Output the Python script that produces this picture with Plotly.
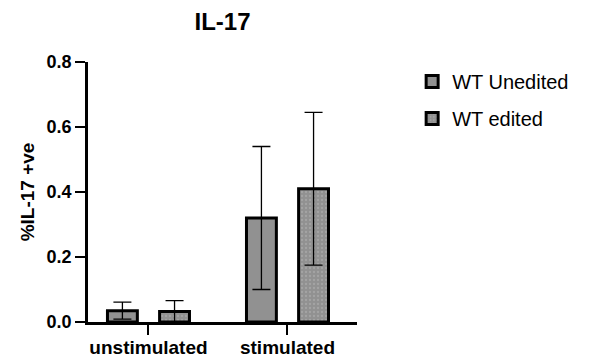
import plotly.graph_objects as go

categories = ["unstimulated", "stimulated"]
series_names = ["WT Unedited", "WT edited"]
unedited_mean = [0.035, 0.32]
unedited_err = [0.026, 0.22]
edited_mean = [0.032, 0.41]
edited_err = [0.034, 0.235]
y_ticks = [0.0, 0.2, 0.4, 0.6, 0.8]
y_tick_labels = ["0.0", "0.2", "0.4", "0.6", "0.8"]

FONT = "Arial, Liberation Sans, Helvetica, sans-serif"
fill = "#919191"

# page body has an 8px default margin, so the figure is 8px smaller
W, H = 582, 354

fig = go.Figure()
fig.add_trace(go.Bar(
    name=series_names[0], x=categories, y=unedited_mean, legendgroup="a",
    width=0.215, offset=-0.295,
    marker=dict(color=fill, line=dict(color="black", width=3)),
    error_y=dict(type="data", array=unedited_err, color="black", thickness=1.3, width=9),
))
fig.add_trace(go.Bar(
    name=series_names[1], x=categories, y=edited_mean, legendgroup="b",
    width=0.215, offset=0.08,
    marker=dict(color=fill, line=dict(color="black", width=3),
                pattern=dict(shape=".", fgcolor="#b5b5b5", bgcolor=fill, size=4, solidity=0.25)),
    error_y=dict(type="data", array=edited_err, color="black", thickness=1.3, width=9),
))

fig.update_layout(
    width=W, height=H,
    margin=dict(l=80, r=233, t=54, b=40),
    paper_bgcolor="white", plot_bgcolor="white",
    barmode="overlay",
    title=dict(text="<b>IL-17</b>", x=0.5, xref="paper", xanchor="center",
               y=1 - 14 / H, yanchor="middle", font=dict(family=FONT, size=24, color="black")),
    font=dict(family=FONT, color="black"),
    showlegend=True,
    legend=dict(x=1.205, y=1.0, xanchor="left", yanchor="top",
                font=dict(family=FONT, size=20, color="black"),
                tracegroupgap=8, bgcolor="rgba(0,0,0,0)"),
    xaxis=dict(range=[-0.435, 1.5], showline=True, linecolor="black", linewidth=2.5,
               ticks="outside", ticklen=10, tickwidth=2, tickcolor="black",
               tickfont=dict(family=FONT, size=19, color="black"),
               ticklabelstandoff=-4,
               showgrid=False, zeroline=False, automargin=False,
               tickvals=categories, ticktext=["<b>%s</b>" % c for c in categories]),
    yaxis=dict(range=[0, 0.8], showline=True, linecolor="black", linewidth=2.5,
               ticks="outside", ticklen=10, tickwidth=2, tickcolor="black",
               tickvals=y_ticks, ticktext=["<b>%s</b>" % t for t in y_tick_labels],
               tickfont=dict(family=FONT, size=18, color="black"),
               showgrid=False, zeroline=False, automargin=False,
               title=dict(text="<b>%IL-17 +ve</b>", font=dict(family=FONT, size=19, color="black"),
                          standoff=7)),
)

fig.write_html("out.html")
